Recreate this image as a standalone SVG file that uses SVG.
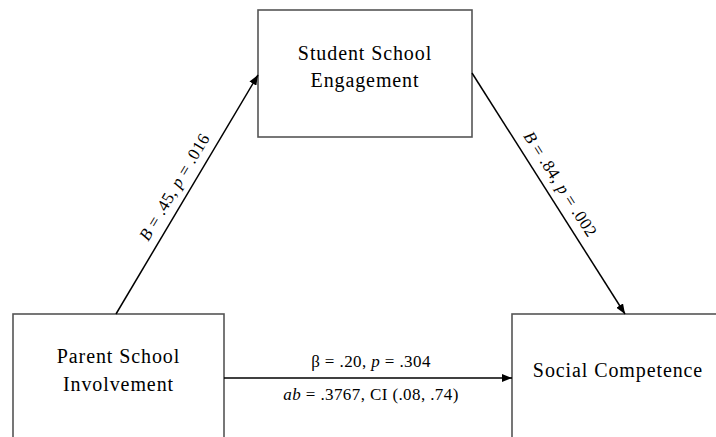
<svg xmlns="http://www.w3.org/2000/svg" width="716" height="437" viewBox="0 0 716 437">
<defs>
<marker id="ah" viewBox="0 0 10 8" refX="10" refY="4" markerWidth="10" markerHeight="8" markerUnits="userSpaceOnUse" orient="auto">
<path d="M0,0 L10,4 L0,8 Z" fill="#000"/>
</marker>
<style>
.box{fill:#fff;stroke:#555;stroke-width:1.6}
.nt{font-family:"Liberation Serif","Times New Roman",serif;font-size:20px;letter-spacing:0.9px;fill:#000;text-anchor:middle}
.lt{font-family:"Liberation Serif","Times New Roman",serif;font-size:17px;letter-spacing:0.4px;fill:#000;text-anchor:middle}
.edge{stroke:#000;stroke-width:1.5;fill:none;marker-end:url(#ah)}
</style>
</defs>
<rect width="716" height="437" fill="#fff"/>
<g id="student">
<rect class="box" x="258" y="10" width="214" height="127"/>
<text class="nt" x="365" y="60">Student School</text>
<text class="nt" x="365" y="87">Engagement</text>
</g>
<g id="parent">
<rect class="box" x="13" y="314" width="211" height="140"/>
<text class="nt" x="118.5" y="363">Parent School</text>
<text class="nt" x="118.5" y="391">Involvement</text>
</g>
<g id="social">
<rect class="box" x="512" y="314" width="215" height="140"/>
<text class="nt" x="618" y="377">Social Competence</text>
</g>
<g id="connectors">
<line class="edge" x1="116" y1="314" x2="258" y2="75"/>
<line class="edge" x1="472" y1="73" x2="625" y2="314"/>
<line class="edge" x1="224" y1="378" x2="512" y2="378"/>
<text class="lt" transform="translate(187,194.5) rotate(-59.3)" y="-9"><tspan font-style="italic">B</tspan> = .45, <tspan font-style="italic">p</tspan> = .016</text>
<text class="lt" transform="translate(548,192) rotate(57.5)" y="-9"><tspan font-style="italic">B</tspan> = .84, <tspan font-style="italic">p</tspan> = .002</text>
<text class="lt" x="371" y="367">β = .20, <tspan font-style="italic">p</tspan> = .304</text>
<text class="lt" x="371" y="400"><tspan font-style="italic">ab</tspan> = .3767, CI (.08, .74)</text>
</g>
</svg>
